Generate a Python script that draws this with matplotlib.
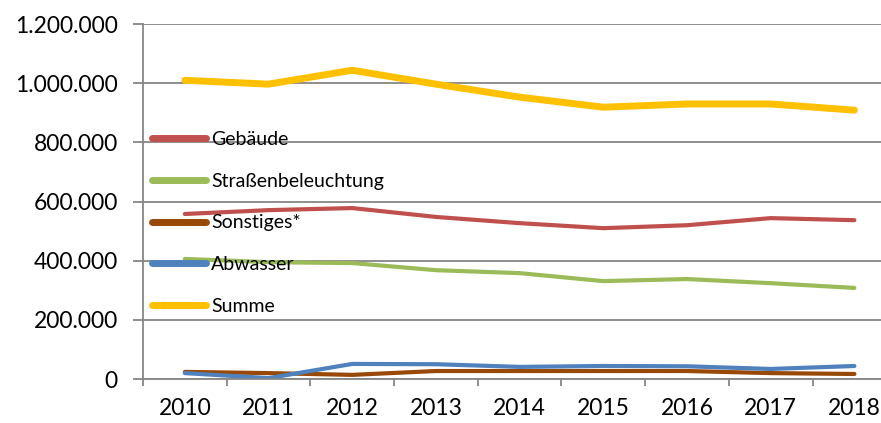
import matplotlib.pyplot as plt
import numpy as np

years = ['2010', '2011', '2012', '2013', '2014', '2015', '2016', '2017', '2018']
gebaeude = [558000, 571000, 578000, 548000, 527000, 510000, 520000, 544000, 537000]
strassen = [406000, 395000, 392000, 368000, 358000, 331000, 338000, 324000, 308000]
sonstiges = [24000, 20000, 14000, 27000, 27000, 27000, 27000, 20000, 17000]
abwasser = [20000, 3000, 51000, 50000, 41000, 44000, 43000, 34000, 44000]
summe = [1010000, 997000, 1044000, 997000, 953000, 919000, 930000, 930000, 909000]

yticks = [0, 200000, 400000, 600000, 800000, 1000000, 1200000]

plt.rcParams['font.family'] = ['Lato', 'DejaVu Sans']
grid_col = '#868686'

fig = plt.figure(figsize=(8.81, 4.23), dpi=100)
ax = fig.add_axes([0.1623, 0.104, 0.855, 0.839])

x = np.arange(len(years))
ax.plot(x, gebaeude, color='#C0504D', lw=3, label='Gebäude', solid_capstyle='round')
ax.plot(x, strassen, color='#9BBB59', lw=3, label='Straßenbeleuchtung', solid_capstyle='round')
ax.plot(x, sonstiges, color='#984807', lw=3, label='Sonstiges*', solid_capstyle='round')
ax.plot(x, abwasser, color='#4F81BD', lw=3, label='Abwasser', solid_capstyle='round')
ax.plot(x, summe, color='#FFC000', lw=5, label='Summe', solid_capstyle='round')

ax.set_xlim(-0.5, len(years) - 0.5)
ax.set_ylim(0, 1200000)
ax.set_yticks(yticks)
ax.set_yticklabels(['{:,}'.format(v).replace(',', '.') for v in yticks], fontsize=16.5)
ax.yaxis.grid(True, color=grid_col, lw=1.3)
ax.set_axisbelow(True)

ax.set_xticks(np.arange(len(years) + 1) - 0.5)
ax.set_xticklabels([])
ax.set_xticks(x, minor=True)
ax.set_xticklabels(years, minor=True, fontsize=16.5)
ax.tick_params(axis='x', which='major', length=5, color=grid_col, width=1.3)
ax.tick_params(axis='x', which='minor', length=0, pad=14)
ax.tick_params(axis='y', length=7, color=grid_col, width=1.3, pad=11)

for s in ['top', 'right']:
    ax.spines[s].set_visible(False)
for s in ['left', 'bottom']:
    ax.spines[s].set_color(grid_col)
    ax.spines[s].set_linewidth(1.3)

leg = ax.legend(loc='upper left', bbox_to_anchor=(-0.006, 0.737), frameon=False,
                fontsize=14, handlelength=2.75, handletextpad=0.3,
                labelspacing=1.27, borderaxespad=0.3)
for h in leg.legend_handles:
    h.set_linewidth(5)

fig.savefig('out.png', dpi=100)
